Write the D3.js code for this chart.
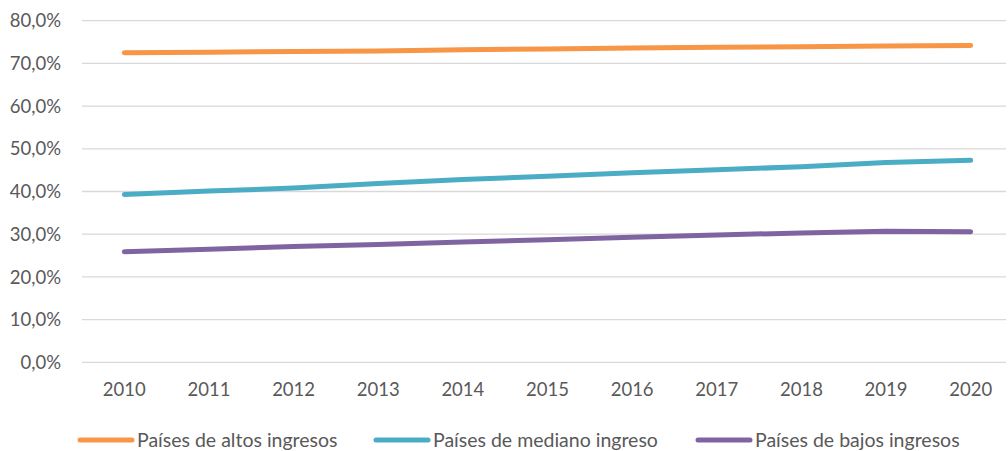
<!DOCTYPE html>
<html>
<head>
<meta charset="utf-8">
<script src="https://cdn.jsdelivr.net/npm/d3@7"></script>
<style>
  body { margin: 0; background: #fff; }
  text { font-family: Lato, "Open Sans", sans-serif; fill: #595959; }
</style>
</head>
<body>
<svg id="chart" width="1008" height="451"></svg>
<script>
// chart values
var years = ["2010", "2011", "2012", "2013", "2014", "2015", "2016", "2017", "2018", "2019", "2020"];
var altos = [72.5, 72.6, 72.8, 72.9, 73.2, 73.4, 73.6, 73.8, 73.9, 74.1, 74.2];
var mediano = [39.3, 40.1, 40.8, 41.9, 42.8, 43.6, 44.4, 45.1, 45.8, 46.8, 47.3];
var bajos = [25.9, 26.5, 27.1, 27.6, 28.2, 28.7, 29.3, 29.8, 30.3, 30.7, 30.6];
var yTicks = [0, 10, 20, 30, 40, 50, 60, 70, 80];
var seriesNames = ["Países de altos ingresos", "Países de mediano ingreso", "Países de bajos ingresos"];
var seriesColors = ["#F79646", "#4BACC6", "#8064A2"];

var svg = d3.select("#chart");

var x = d3.scalePoint().domain(years).range([82, 1013]).padding(0.5);
var y = d3.scaleLinear().domain([0, 80]).range([362.3, 20.7]);

// gridlines
svg.append("g").selectAll("line")
    .data(yTicks)
    .enter().append("line")
    .attr("x1", 82)
    .attr("x2", 1006)
    .attr("y1", function(d) { return y(d); })
    .attr("y2", function(d) { return y(d); })
    .attr("stroke", "#d9d9d9")
    .attr("stroke-width", 1.3);

// y labels
svg.append("g").selectAll("text")
    .data(yTicks)
    .enter().append("text")
    .attr("x", 61)
    .attr("y", function(d) { return y(d); })
    .attr("dy", "0.36em")
    .attr("text-anchor", "end")
    .style("font-size", "18.5px")
    .text(function(d) { return d.toFixed(1).replace(".", ",") + "%"; });

// x labels
svg.append("g").selectAll("text")
    .data(years)
    .enter().append("text")
    .attr("x", function(d) { return x(d); })
    .attr("y", 396)
    .attr("text-anchor", "middle")
    .style("font-size", "18.5px")
    .text(function(d) { return d; });

// lines
var line = d3.line()
    .x(function(d, i) { return x(years[i]); })
    .y(function(d) { return y(d); });

var allSeries = [altos, mediano, bajos];
svg.append("g").selectAll("path")
    .data(allSeries)
    .enter().append("path")
    .attr("d", line)
    .attr("fill", "none")
    .attr("stroke", function(d, i) { return seriesColors[i]; })
    .attr("stroke-width", 5)
    .attr("stroke-linecap", "round")
    .attr("stroke-linejoin", "round");

// legend
var legendX = [80, 376, 698];
var legend = svg.append("g").selectAll("g")
    .data(seriesNames)
    .enter().append("g")
    .attr("transform", function(d, i) { return "translate(" + legendX[i] + ",440)"; });

legend.append("line")
    .attr("x1", 0)
    .attr("x2", 52)
    .attr("stroke", function(d, i) { return seriesColors[i]; })
    .attr("stroke-width", 5)
    .attr("stroke-linecap", "round");

legend.append("text")
    .attr("x", 57)
    .attr("y", 6.5)
    .style("font-size", "19.5px")
    .text(function(d) { return d; });
</script>
</body>
</html>
